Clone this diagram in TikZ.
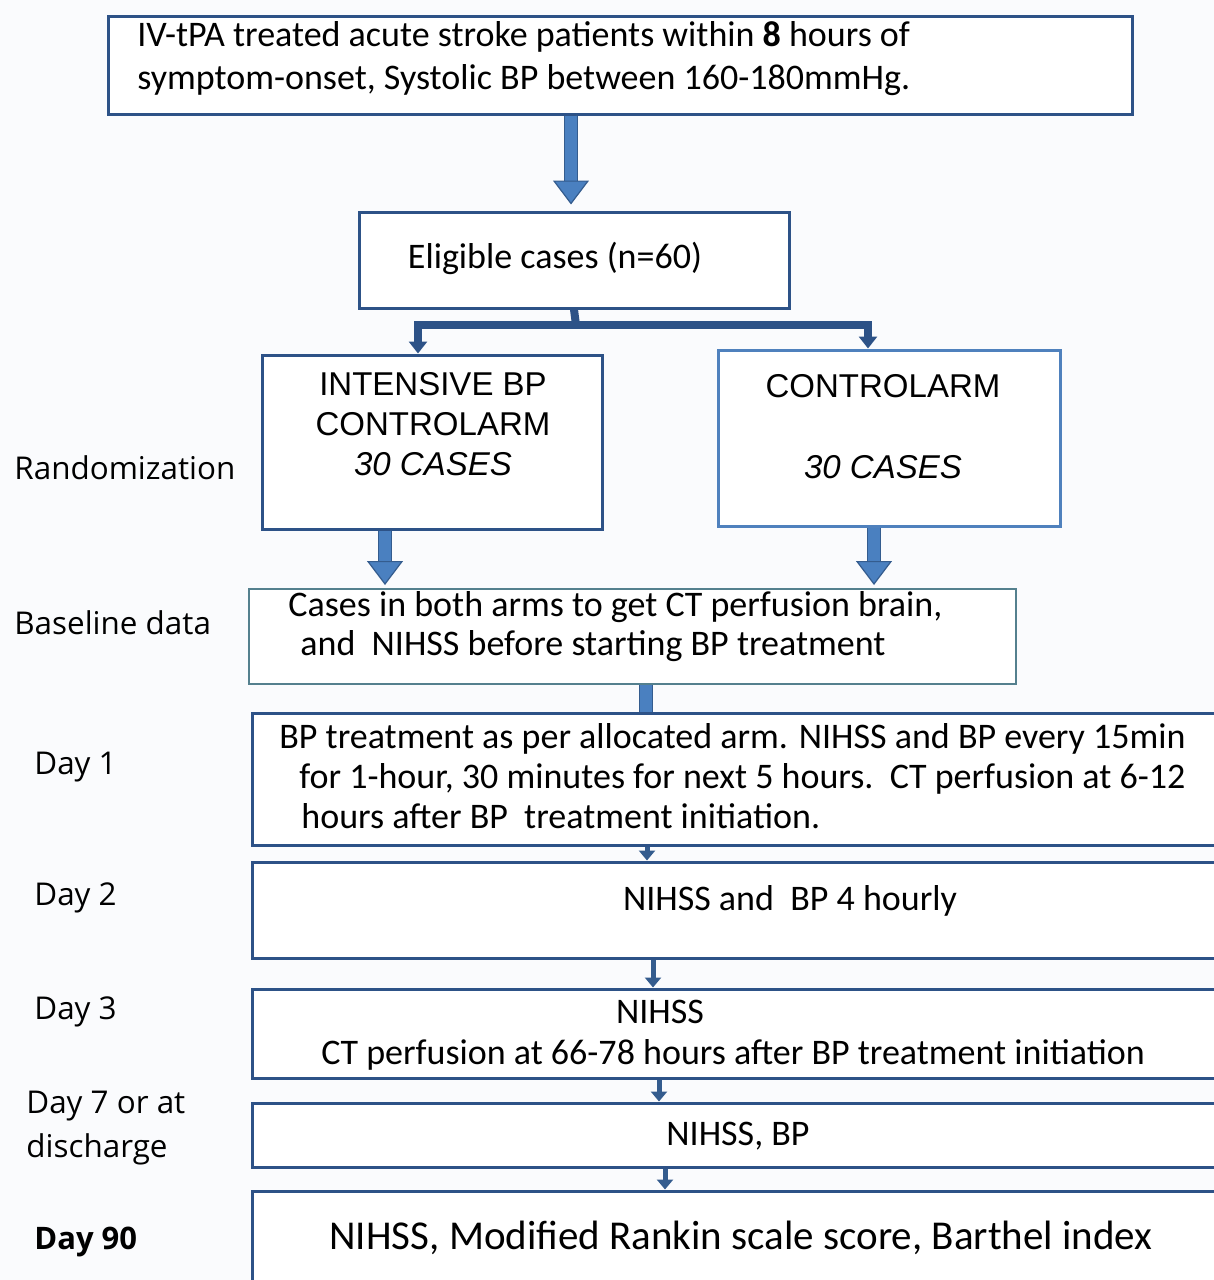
\documentclass[tikz,border=0pt]{standalone}
\usepackage{fontspec}
\setmainfont{Carlito}
\newfontfamily\armfont{Liberation Sans}
\newfontfamily\sidefont{Open Sans}
\usetikzlibrary{arrows.meta,positioning,calc}
\definecolor{boxline}{RGB}{45,82,135}
\definecolor{ctrlline}{RGB}{79,129,189}
\definecolor{baseline}{RGB}{84,128,142}
\definecolor{arrowfill}{RGB}{74,128,192}
\definecolor{arrowline}{RGB}{52,92,142}
\definecolor{paper}{RGB}{250,251,253}

\tikzset{
  box/.style={draw=boxline, line width=1.5pt, fill=white, rectangle, inner sep=0pt},
  txt/.style={inner sep=0pt, font=\fontsize{18}{20}\selectfont},
  armtxt/.style={inner sep=0pt, align=center, font=\armfont\fontsize{16.5}{20}\selectfont},
  side/.style={inner sep=0pt, anchor=west, font=\sidefont\fontsize{15.7}{22}\selectfont},
  barrow/.style={line width=6pt, draw=arrowfill,
    -{Triangle[width=18pt,length=12pt,fill=arrowfill,color=arrowline,line width=0.6pt]},
    preaction={draw=arrowline, line width=7.2pt, -, shorten >=12pt}},
  stem/.style={line width=6pt, draw=arrowfill, preaction={draw=arrowline, line width=7.2pt}},
  splitline/.style={line width=4pt, draw=boxline},
  smallarrow/.style={line width=2.5pt, draw=arrowline, -{Triangle[width=8pt,length=5pt]}}
}

\begin{document}
\begin{tikzpicture}[x=0.5pt,y=-0.5pt]
  \useasboundingbox (0,0) rectangle (1214,1280);
  \clip (0,0) rectangle (1214,1280);
  \fill[paper] (0,0) rectangle (1214,1280);

  % boxes
  \node[box, minimum width=512pt, minimum height=49pt] (top) at (620,65) {};
  \node[box, minimum width=215pt, minimum height=48pt] (elig) at (574,260) {};
  \node[box, minimum width=170pt, minimum height=87pt] (int) at (432,442) {};
  \node[box, draw=ctrlline, minimum width=171pt, minimum height=88pt] (ctrl) at (889,438) {};
  \node[box, draw=baseline, line width=1pt, minimum width=383.5pt, minimum height=47.5pt] (base) at (632.5,636.5) {};
  \node[box, minimum width=484pt, minimum height=66pt] (day1) at (736,779) {};
  \node[box, minimum width=484pt, minimum height=48pt] (day2) at (736,910) {};
  \node[box, minimum width=484pt, minimum height=44.5pt] (day3) at (736,1033.5) {};
  \node[box, minimum width=484pt, minimum height=32pt] (day7) at (736,1135) {};
  \node[box, minimum width=484pt, minimum height=50pt] (day90) at (736,1241) {};

  % texts in the boxes
  \node[txt, anchor=west, align=left] (topT) at (137,58.5)
    {IV-tPA treated acute stroke patients within \textbf{8} hours of\\[1.5pt]
     symptom-onset, Systolic BP between 160-180mmHg.};
  \node[txt] (eligT) at (555,258) {Eligible cases (n=60)};
  \node[armtxt] (intT) at (433,424)
    {INTENSIVE BP\\CONTROLARM\\\textit{30 CASES}};
  \node[armtxt] (ctrlT) at (883,427) {CONTROLARM\\[20.5pt]\textit{30 CASES}};
  \node[txt, anchor=west, align=left, font=\fontsize{18}{19.5}\selectfont] (baseT) at (288,626.5)
    {Cases in both arms to get CT perfusion brain,\\\hspace*{6pt}and\ \ NIHSS before starting BP treatment};
  \node[txt, anchor=west, align=left] (day1T) at (279,776)
    {BP treatment as per allocated arm. NIHSS and BP every 15min\\
     \hspace*{10pt}for 1-hour, 30 minutes for next 5 hours.\ \ CT perfusion at 6-12\\
     \hspace*{11pt}hours after BP\ \ treatment initiation.};
  \node[txt] (day2T) at (790,901) {NIHSS and\ \ BP 4 hourly};
  \node[txt] (day3a) at (660,1012) {NIHSS};
  \node[txt] (day3b) at (733,1055) {CT perfusion at 66-78 hours after BP treatment initiation};
  \node[txt] (day7T) at (738,1136) {NIHSS, BP};
  \node[txt, font=\fontsize{20.5}{24}\selectfont] (day90T) at (741,1238)
    {NIHSS, Modified Rankin scale score, Barthel index};

  % labels on the left
  \node[side] (rand) at (14,468) {Randomization};
  \node[side] (bdata) at (14,623) {Baseline data};
  \node[side] (d1) at (34,767) {Day 1};
  \node[side] (d2) at (34,898) {Day 2};
  \node[side] (d3) at (34,1012) {Day 3};
  \node[side, align=left] (d7) at (26,1128) {Day 7 or at\\discharge};
  \node[side, font=\sidefont\bfseries\fontsize{15.5}{22}\selectfont] (d90) at (34,1242) {Day 90};

  % connectors
  \draw[barrow] ([xshift=-24.5pt]top.south) -- ([xshift=-24.5pt,yshift=3pt]top.south |- elig.north);
  \coordinate (bar) at (576,325);
  \draw[splitline] (elig.south) -- (bar);
  \draw[splitline, -{Triangle[width=9pt,length=6pt]}] (bar) -| ([xshift=-7pt]int.north);
  \draw[splitline, -{Triangle[width=9pt,length=6pt]}] (bar) -| ([xshift=-10.5pt]ctrl.north);
  \draw[barrow] ([xshift=-23.5pt]int.south) -- ([xshift=-23.5pt,yshift=1.5pt]int.south |- base.north);
  \draw[barrow] ([xshift=-7.5pt]ctrl.south) -- ([xshift=-7.5pt,yshift=1.5pt]ctrl.south |- base.north);
  \draw[stem] ([xshift=6.75pt]base.south) -- ([xshift=6.75pt]base.south |- day1.north);
  \draw[smallarrow] ([xshift=-44.5pt]day1.south) -- ([xshift=-44.5pt]day1.south |- day2.north);
  \draw[smallarrow] ([xshift=-41.5pt]day2.south) -- ([xshift=-41.5pt]day2.south |- day3.north);
  \draw[smallarrow] ([xshift=-38.5pt]day3.south) -- ([xshift=-38.5pt]day3.south |- day7.north);
  \draw[smallarrow] ([xshift=-35.5pt]day7.south) -- ([xshift=-35.5pt]day7.south |- day90.north);
\end{tikzpicture}
\end{document}
